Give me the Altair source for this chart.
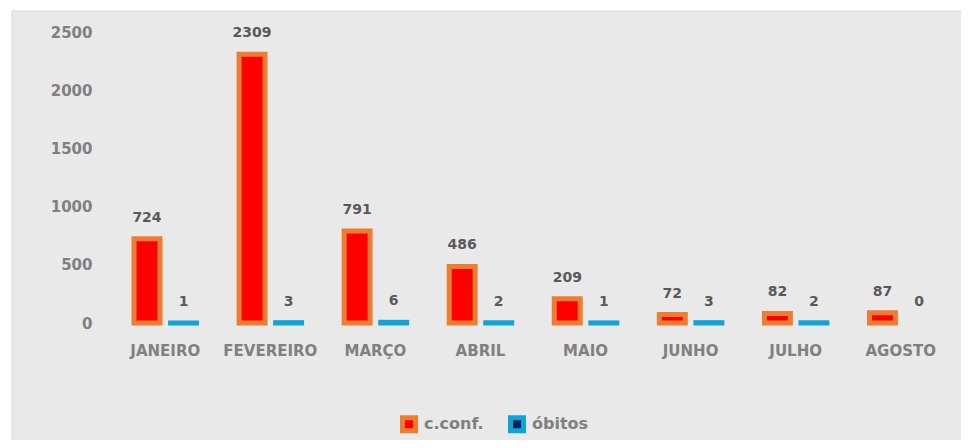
import altair as alt
import pandas as pd

months = ["JANEIRO", "FEVEREIRO", "MARÇO", "ABRIL", "MAIO", "JUNHO", "JULHO", "AGOSTO"]
conf = [724, 2309, 791, 486, 209, 72, 82, 87]
obitos = [1, 3, 6, 2, 1, 3, 2, 0]
series = ["c.conf.", "óbitos"]
y_ticks = [0, 500, 1000, 1500, 2000, 2500]

rows = []
for m, c, o in zip(months, conf, obitos):
    rows.append({"mes": m, "serie": series[0], "valor": c})
    rows.append({"mes": m, "serie": series[1], "valor": o})
df = pd.DataFrame(rows)

FONT = "DejaVu Sans"
AXIS_GREY = "#808080"

legend = alt.Legend(
    title=None, orient="none", legendX=287, legendY=383, direction="horizontal",
    labelFont=FONT, labelFontWeight="bold", labelFontSize=16, labelColor=AXIS_GREY,
    symbolType="square", symbolSize=169, symbolStrokeWidth=5,
    labelOffset=6, columnPadding=16, zindex=2,
)

base = alt.Chart(df).encode(
    x=alt.X(
        "mes:N", sort=months,
        scale=alt.Scale(paddingInner=0.405, paddingOuter=0.2),
        axis=alt.Axis(
            title=None, labelAngle=0, ticks=False, domain=False, grid=False,
            labelPadding=27, labelBaseline="middle", zindex=2,
            labelFont=FONT, labelFontWeight="bold", labelFontSize=15, labelColor=AXIS_GREY,
        ),
    ),
    xOffset=alt.XOffset("serie:N", sort=series, scale=alt.Scale(paddingInner=0.29, paddingOuter=0)),
    y=alt.Y(
        "valor:Q",
        scale=alt.Scale(domain=[0, 2500], nice=False),
        axis=alt.Axis(
            title=None, values=y_ticks, format="d", ticks=False, domain=False, grid=False,
            zindex=2, labelPadding=21, labelFont=FONT, labelFontWeight="bold",
            labelFontSize=15, labelColor=AXIS_GREY,
        ),
    ),
)

bars = base.mark_bar(strokeWidth=5).encode(
    fill=alt.Fill("serie:N", sort=series,
                  scale=alt.Scale(domain=series, range=["#FF0000", "#002060"]), legend=legend),
    stroke=alt.Stroke("serie:N", sort=series,
                      scale=alt.Scale(domain=series, range=["#ED7D31", "#0FA3DA"]), legend=legend),
).transform_filter("datum.valor > 0")

labels = base.mark_text(
    baseline="middle", dy=-21, font=FONT, fontWeight="bold", fontSize=14, color="#595959"
).encode(text="valor:Q")

frame = alt.Chart(pd.DataFrame({"a": [0]})).mark_rect(
    fill="#E9E9E9", stroke="#D6D6D6", strokeWidth=1
).encode(
    x=alt.value(-101), x2=alt.value(960), y=alt.value(-21), y2=alt.value(430)
)

chart = alt.layer(frame, bars, labels).properties(
    width=840, height=291,
    autosize=alt.AutoSizeParams(type="none"),
    padding={"left": 105, "top": 24, "right": 8, "bottom": 117},
    background="white",
).configure_view(stroke=None)

chart.save("out.html", embed_options={"renderer": "svg", "actions": False})
